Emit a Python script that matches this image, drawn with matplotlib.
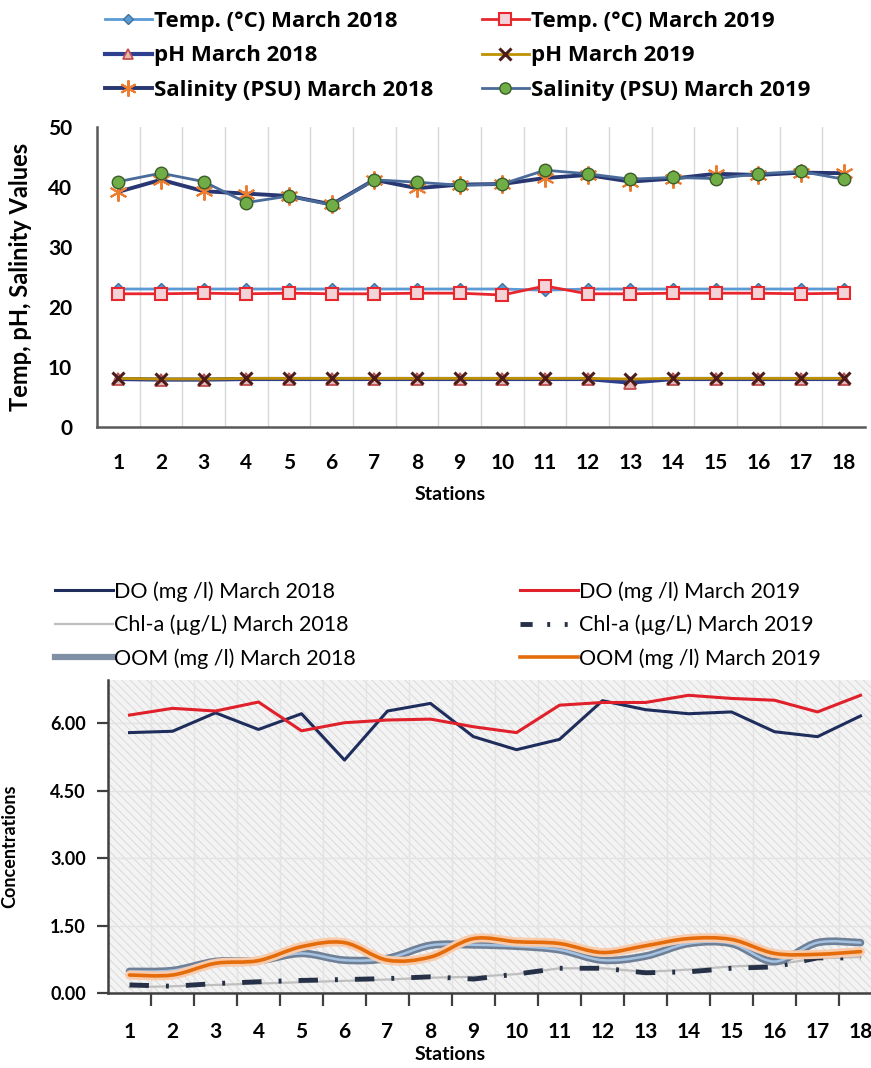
import numpy as np
import matplotlib
matplotlib.use("Agg")
import matplotlib.pyplot as plt
from matplotlib.path import Path
from matplotlib.patches import PathPatch, Rectangle
from matplotlib.lines import Line2D

plt.rcParams["font.family"] = ["Lato", "DejaVu Sans"]
plt.rcParams["hatch.linewidth"] = 0.6

stations = list(range(1, 19))

# physical parameters, March 2018 / March 2019
temp_2018 = [23.0, 23.0, 23.0, 23.0, 23.0, 23.0, 23.0, 23.0, 23.0,
             23.0, 22.8, 23.0, 23.0, 23.0, 23.0, 23.0, 23.0, 23.0]
temp_2019 = [22.2, 22.2, 22.3, 22.2, 22.3, 22.2, 22.2, 22.3, 22.3,
             22.0, 23.5, 22.2, 22.2, 22.3, 22.3, 22.3, 22.2, 22.3]
ph_2018 = [8.0, 7.9, 7.9, 8.0, 8.0, 8.0, 8.0, 8.0, 8.0,
           8.0, 8.0, 8.0, 7.4, 8.0, 8.0, 8.0, 8.0, 8.0]
ph_2019 = [8.1, 8.0, 8.0, 8.1, 8.1, 8.1, 8.1, 8.1, 8.1,
           8.1, 8.1, 8.1, 8.0, 8.1, 8.1, 8.1, 8.1, 8.1]
sal_2018 = [39.2, 41.2, 39.3, 38.9, 38.5, 37.1, 41.2, 39.8, 40.4,
            40.5, 41.5, 42.0, 40.9, 41.4, 42.2, 42.0, 42.4, 42.3]
sal_2019 = [40.9, 42.3, 40.9, 37.4, 38.5, 37.0, 41.2, 40.8, 40.3,
            40.5, 42.8, 42.2, 41.3, 41.6, 41.4, 42.2, 42.6, 41.3]

# chemical parameters
do_2018 = [5.79, 5.82, 6.23, 5.86, 6.21, 5.18, 6.27, 6.44, 5.70,
           5.41, 5.64, 6.50, 6.30, 6.21, 6.25, 5.81, 5.70, 6.16]
do_2019 = [6.18, 6.33, 6.27, 6.47, 5.83, 6.01, 6.07, 6.09, 5.92,
           5.79, 6.40, 6.46, 6.46, 6.62, 6.55, 6.51, 6.25, 6.62]
chl_2018 = [0.13, 0.15, 0.18, 0.21, 0.24, 0.27, 0.30, 0.34, 0.36,
            0.42, 0.55, 0.55, 0.47, 0.52, 0.59, 0.63, 0.77, 0.80]
chl_2019 = [0.18, 0.15, 0.21, 0.25, 0.28, 0.30, 0.32, 0.36, 0.31,
            0.42, 0.55, 0.55, 0.45, 0.47, 0.55, 0.58, 0.78, 0.78]
oom_2018 = [0.48, 0.50, 0.70, 0.72, 0.88, 0.73, 0.77, 1.06, 1.07,
            1.04, 0.96, 0.73, 0.82, 1.10, 1.10, 0.70, 1.12, 1.12]
oom_2019 = [0.40, 0.40, 0.66, 0.72, 1.03, 1.12, 0.73, 0.80, 1.21,
            1.14, 1.10, 0.90, 1.05, 1.21, 1.19, 0.88, 0.86, 0.92]

top_ticks = [0, 10, 20, 30, 40, 50]
bottom_ticks = [0.0, 1.5, 3.0, 4.5, 6.0]


def smooth_path(x, y):
    # Catmull-Rom style bezier through every point (Excel "smoothed line")
    pts = np.column_stack([x, y]).astype(float)
    n = len(pts)
    verts = [pts[0]]
    codes = [Path.MOVETO]
    for i in range(n - 1):
        p0 = pts[max(i - 1, 0)]
        p1 = pts[i]
        p2 = pts[i + 1]
        p3 = pts[min(i + 2, n - 1)]
        c1 = p1 + (p2 - p0) / 6.0
        c2 = p2 - (p3 - p1) / 6.0
        verts += [c1, c2, p2]
        codes += [Path.CURVE4] * 3
    return Path(verts, codes)


def draw_smooth(ax, x, y, color, lw, z):
    patch = PathPatch(smooth_path(x, y), fill=False, edgecolor=color,
                      linewidth=lw, zorder=z, capstyle="round", joinstyle="round")
    ax.add_patch(patch)


fig = plt.figure(figsize=(8.71, 10.68), dpi=100)
W, H = 871.0, 1068.0

# ---------------- upper panel ----------------
ax1 = fig.add_axes([97 / W, 1 - 427 / H, 768 / W, 300 / H])
x = np.array(stations)

h_t18, = ax1.plot(x, temp_2018, color="#5b9bd5", lw=2, marker="D", ms=6,
                  mfc="#5b9bd5", mec="#41719c", zorder=3,
                  label="Temp. (°C) March 2018")
h_t19, = ax1.plot(x, temp_2019, color="#e8262d", lw=2, marker="s", ms=9,
                  mfc="#f3d3d7", mec="#e8262d", mew=1.5, zorder=4,
                  label="Temp. (°C) March 2019")
h_p18, = ax1.plot(x, ph_2018, color="#2e3f8f", lw=3, marker="^", ms=8,
                  mfc="#e6b9b8", mec="#c0504d", mew=1.3, zorder=3,
                  label="pH March 2018")
h_p19, = ax1.plot(x, ph_2019, color="#bf9000", lw=2, marker="x", ms=9,
                  mec="#4a1c1c", mew=2.2, zorder=4,
                  label="pH March 2019")
h_s18, = ax1.plot(x, sal_2018, color="#283672", lw=2.8, marker=(6, 2, 0), ms=13,
                  mec="#ed7d31", mew=1.5, zorder=3,
                  label="Salinity (PSU) March 2018")
h_s19, = ax1.plot(x, sal_2019, color="#4a6b9a", lw=2, marker="o", ms=9,
                  mfc="#70ad47", mec="#3b5d27", mew=1, zorder=5,
                  label="Salinity (PSU) March 2019")

ax1.set_xlim(0.5, 18.5)
ax1.set_ylim(0, 50)
ax1.set_yticks(top_ticks)
ax1.set_xticks(x)
ax1.set_xticks(np.arange(1.5, 18.5, 1), minor=True)
ax1.grid(True, which="minor", axis="x", color="#d9d9d9", lw=1)
ax1.tick_params(which="both", length=0)
ax1.tick_params(axis="x", labelsize=15, pad=19)
ax1.tick_params(axis="y", labelsize=15, pad=18)
for lab in ax1.get_xticklabels() + ax1.get_yticklabels():
    lab.set_fontweight("bold")
for side in ["top", "right"]:
    ax1.spines[side].set_visible(False)
for side in ["left", "bottom"]:
    ax1.spines[side].set_color("#595959")
    ax1.spines[side].set_linewidth(1.8)
ax1.set_xlabel("Stations", fontsize=14, fontweight="bold")
ax1.xaxis.set_label_coords((450 - 97) / 768, -(486 - 427) / 300)
ax1.set_ylabel("Temp, pH, Salinity Values", fontsize=17, fontweight="bold")
ax1.yaxis.set_label_coords(-(97 - 32) / 768, 0.5)

fig.legend(handles=[h_t18, h_p18, h_s18, h_t19, h_p19, h_s19],
           loc="upper left", bbox_to_anchor=(105 / W, 1 - 11 / H), ncol=2,
           frameon=False, borderpad=0, borderaxespad=0,
           prop={"family": ["Open Sans", "Lato"], "weight": "bold", "size": 16},
           handlelength=2.1, handletextpad=0.1, labelspacing=0.6,
           columnspacing=2.2, markerscale=0.9)

# ---------------- lower panel ----------------
ax2 = fig.add_axes([108 / W, 1 - 993 / H, 774 / W, 313 / H])
ax2.set_xlim(0.5, 18.5)
ax2.set_ylim(0, 6.96)

ax2.add_patch(Rectangle((0, 0), 1, 1, transform=ax2.transAxes,
                        facecolor="#f3f3f3", edgecolor="#d6d6d6",
                        hatch="\\\\\\\\", lw=0, zorder=0))
ax2.set_xticks(np.arange(1.5, 18.5, 1), minor=True)
ax2.grid(True, which="minor", axis="x", color="#e3e3e3", lw=1, zorder=1)
ax2.grid(True, which="major", axis="y", color="#e3e3e3", lw=1, zorder=1)

ax2.plot(x, do_2018, color="#1f2d5c", lw=2.2, zorder=4)
ax2.plot(x, do_2019, color="#e0202a", lw=2.2, zorder=4)
ax2.plot(x, chl_2018, color="#bfbfbf", lw=1.6, zorder=3)
ax2.plot(x, chl_2019, color="#263147", lw=3.5, ls=(0, (4, 3.5, 0.6, 3.5)), zorder=3)
draw_smooth(ax2, x, oom_2018, "#6f7f95", 5.5, 5)
draw_smooth(ax2, x, oom_2018, "#a4c2e2", 1.8, 5)
draw_smooth(ax2, x, oom_2019, "#f8cbad", 6.5, 6)
draw_smooth(ax2, x, oom_2019, "#e46c0a", 2.6, 6)

ax2.set_xticks(x)
ax2.set_yticks(bottom_ticks)
ax2.set_yticklabels([f"{v:.2f}" for v in bottom_ticks])
ax2.tick_params(axis="x", which="major", length=0, labelsize=15, pad=21)
ax2.tick_params(axis="x", which="minor", length=9, width=1.6,
                color="#404040", direction="out")
ax2.tick_params(axis="y", length=8, width=1.6, color="#404040",
                labelsize=13, pad=8)
for lab in ax2.get_xticklabels() + ax2.get_yticklabels():
    lab.set_fontweight("bold")
for side in ["top", "right"]:
    ax2.spines[side].set_visible(False)
for side in ["left", "bottom"]:
    ax2.spines[side].set_color("#404040")
    ax2.spines[side].set_linewidth(1.8)
ax2.set_xlabel("Stations", fontsize=14, fontweight="bold")
ax2.xaxis.set_label_coords((450 - 108) / 774, -(1046 - 993) / 313)
fig.text(1 / W, 1 - 846 / H, "Concentrations", rotation=90, ha="left",
         va="center", fontsize=13, fontweight="bold")

legend_font = {"family": ["Lato", "DejaVu Sans"], "size": 15.5}
bottom_handles = [
    Line2D([], [], color="#1f2d5c", lw=2.2, label="DO (mg /l) March 2018"),
    Line2D([], [], color="#bfbfbf", lw=1.6, label="Chl-a (µg/L) March 2018"),
    Line2D([], [], color="#7f8fa6", lw=4.5, label="OOM (mg /l) March 2018"),
    Line2D([], [], color="#e0202a", lw=2.2, label="DO (mg /l) March 2019"),
    Line2D([], [], color="#263147", lw=3.5, ls=(0, (2.5, 3, 0.6, 3, 0.6, 3)),
           label="Chl-a (µg/L) March 2019"),
    Line2D([], [], color="#e46c0a", lw=2.6, label="OOM (mg /l) March 2019"),
]
fig.legend(handles=bottom_handles, loc="upper left",
           bbox_to_anchor=(55 / W, 1 - 581 / H), ncol=2, frameon=False,
           borderpad=0, borderaxespad=0, prop=legend_font,
           handlelength=2.7, handletextpad=0.05, labelspacing=0.6,
           columnspacing=7.6)

fig.savefig("out.png", dpi=100)
